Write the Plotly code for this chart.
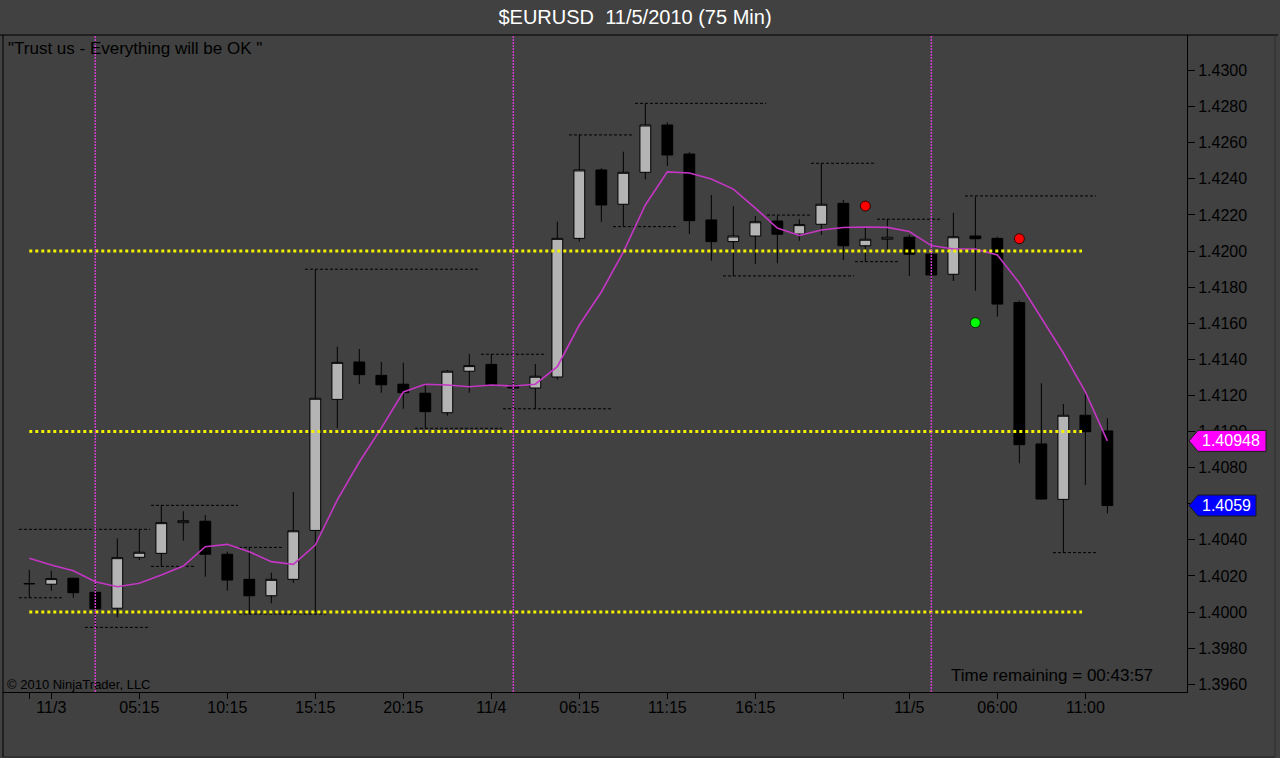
import plotly.graph_objects as go

# ---------------- data ----------------
bar_index = list(range(50))

opens = [1.40157, 1.40154, 1.40187, 1.40109, 1.40021, 1.40303, 1.40325, 1.40495, 1.40503, 1.40320,
         1.40181, 1.40090, 1.40181, 1.40452, 1.41178, 1.41385, 1.41311, 1.41262, 1.41212, 1.41104,
         1.41334, 1.41372, 1.41256, 1.41241, 1.41302, 1.42070, 1.42449, 1.42259, 1.42436, 1.42698,
         1.42537, 1.42172, 1.42052, 1.42083, 1.42166, 1.42094, 1.42148, 1.42264, 1.42029, 1.42065,
         1.42076, 1.41983, 1.41871, 1.42083, 1.42070, 1.41714, 1.40931, 1.40624, 1.41090, 1.41003]
highs = [1.40233, 1.40229, 1.40190, 1.40159, 1.40408, 1.40458, 1.40591, 1.40558, 1.40537, 1.40334,
         1.40358, 1.40218, 1.40665, 1.41898, 1.41470, 1.41457, 1.41385, 1.41381, 1.41267, 1.41341,
         1.41429, 1.41429, 1.41308, 1.41374, 1.42162, 1.42643, 1.42458, 1.42550, 1.42818, 1.42713,
         1.42547, 1.42310, 1.42249, 1.42194, 1.42196, 1.42176, 1.42486, 1.42283, 1.42135, 1.42177,
         1.42089, 1.42006, 1.42212, 1.42301, 1.42079, 1.41725, 1.41267, 1.41152, 1.41217, 1.41073]
lows = [1.40079, 1.40118, 1.40079, 1.39915, 1.39971, 1.40288, 1.40253, 1.40395, 1.40196, 1.40118,
        1.39989, 1.40048, 1.40161, 1.40000, 1.41018, 1.41263, 1.41215, 1.41126, 1.41018, 1.41088,
        1.41215, 1.41255, 1.41126, 1.41126, 1.41288, 1.42052, 1.42162, 1.42135, 1.42397, 1.42471,
        1.42094, 1.41946, 1.41862, 1.41928, 1.41932, 1.42057, 1.42089, 1.41950, 1.41941, 1.42006,
        1.41862, 1.41839, 1.41834, 1.41780, 1.41636, 1.40824, 1.40624, 1.40329, 1.40704, 1.40547]
closes = [1.40157, 1.40185, 1.40107, 1.40018, 1.40301, 1.40331, 1.40495, 1.40506, 1.40320, 1.40177,
          1.40090, 1.40181, 1.40450, 1.41184, 1.41383, 1.41315, 1.41259, 1.41215, 1.41110, 1.41334,
          1.41365, 1.41258, 1.41241, 1.41306, 1.42070, 1.42449, 1.42255, 1.42436, 1.42698, 1.42532,
          1.42168, 1.42052, 1.42083, 1.42162, 1.42093, 1.42146, 1.42259, 1.42029, 1.42065, 1.42076,
          1.41982, 1.41867, 1.42079, 1.42068, 1.41706, 1.40927, 1.40626, 1.41090, 1.40999, 1.40590]

ma_values = [1.40298, 1.40260, 1.40229, 1.40168, 1.40140, 1.40159, 1.40205, 1.40255, 1.40362, 1.40375,
             1.40334, 1.40279, 1.40264, 1.40371, 1.40621, 1.40831, 1.41019, 1.41219, 1.41262, 1.41258,
             1.41248, 1.41258, 1.41252, 1.41262, 1.41359, 1.41590, 1.41773, 1.41994, 1.42255, 1.42438,
             1.42432, 1.42399, 1.42343, 1.42238, 1.42127, 1.42086, 1.42116, 1.42130, 1.42133, 1.42131,
             1.42108, 1.42030, 1.42011, 1.42011, 1.41978, 1.41823, 1.41629, 1.41435, 1.41219, 1.40948]

# swing high/low lines: first bar, last bar, price
swing_from = [0, 0, 6, 6, 3, 10, 10, 13, 18, 21, 22, 25, 28, 27, 34, 36, 32, 39, 38, 43, 47]
swing_to = [5, 1, 9, 7, 5, 11, 13, 20, 21, 23, 26, 27, 33, 29, 35, 38, 37, 41, 39, 48, 48]
swing_price = [1.40458, 1.40079, 1.40591, 1.40253, 1.39915, 1.40358, 1.39989, 1.41899, 1.41018,
               1.41428, 1.41126, 1.42643, 1.42818, 1.42135, 1.42199, 1.42486, 1.41862, 1.42176,
               1.41941, 1.42305, 1.40329]

level_prices = [1.4200, 1.4100, 1.4000]
level_first_bar, level_last_bar = 0, 47.85

session_breaks = [3, 22, 41]

red_dot_bars = [38, 45]
red_dot_prices = [1.42249, 1.42068]
green_dot_bars = [43]
green_dot_prices = [1.41603]

x_tick_bars = [0, 1, 5, 9, 13, 17, 21, 25, 29, 33, 37, 40, 44, 48]
x_tick_labels = ["", "11/3", "05:15", "10:15", "15:15", "20:15", "11/4", "06:15",
                 "11:15", "16:15", "", "11/5", "06:00", "11:00"]
y_tick_values = [1.3960, 1.3980, 1.4000, 1.4020, 1.4040, 1.4060, 1.4080, 1.4100, 1.4120,
                 1.4140, 1.4160, 1.4180, 1.4200, 1.4220, 1.4240, 1.4260, 1.4280, 1.4300]
# 1.4060 sits fully behind the last-price marker in the reference
y_tick_labels = ["1.3960", "1.3980", "1.4000", "1.4020", "1.4040", "", "1.4080", "1.4100",
                 "1.4120", "1.4140", "1.4160", "1.4180", "1.4200", "1.4220", "1.4240",
                 "1.4260", "1.4280", "1.4300"]

x_range = [-1.195, 52.62]
y_range = [1.395569, 1.431966]

BG = "#414141"
FONT = "Arial, Liberation Sans, sans-serif"

fig = go.Figure()

# candles
fig.add_trace(go.Candlestick(
    x=bar_index, open=opens, high=highs, low=lows, close=closes,
    increasing=dict(fillcolor="#b4b4b4", line=dict(color="#000000", width=1)),
    decreasing=dict(fillcolor="#000000", line=dict(color="#000000", width=1)),
    whiskerwidth=0, showlegend=False, hoverinfo="skip"))

# swing lines
sx, sy = [], []
for a, b, p in zip(swing_from, swing_to, swing_price):
    sx += [a - 0.47, b + 0.49, None]
    sy += [p, p, None]
fig.add_trace(go.Scatter(x=sx, y=sy, mode="lines",
                         line=dict(color="#000000", width=1, dash="3px,2px"),
                         showlegend=False, hoverinfo="skip"))

# moving average
fig.add_trace(go.Scatter(x=bar_index, y=ma_values, mode="lines",
                         line=dict(color="#c436c4", width=1.6),
                         showlegend=False, hoverinfo="skip"))

# horizontal yellow levels
lx, ly = [], []
for p in level_prices:
    lx += [level_first_bar, level_last_bar, None]
    ly += [p, p, None]
fig.add_trace(go.Scatter(x=lx, y=ly, mode="lines",
                         line=dict(color="#f2f200", width=3, dash="dot"),
                         showlegend=False, hoverinfo="skip"))

# signal dots
fig.add_trace(go.Scatter(x=red_dot_bars, y=red_dot_prices, mode="markers",
                         marker=dict(color="#ff0000", size=10, line=dict(color="#300000", width=1)),
                         showlegend=False, hoverinfo="skip"))
fig.add_trace(go.Scatter(x=green_dot_bars, y=green_dot_prices, mode="markers",
                         marker=dict(color="#00ff00", size=10, line=dict(color="#003000", width=1)),
                         showlegend=False, hoverinfo="skip"))

shapes = []
for s in session_breaks:
    shapes.append(dict(type="line", xref="x", yref="paper", x0=s, x1=s, y0=0, y1=1,
                       line=dict(color="#cc40cc", width=1.5, dash="2px,1px"), layer="above"))

# panel borders (paper coords; plot area = 3..1187 px wide, 35..692 px high)
PW, PH = 1184.0, 657.0
def px_x(px):
    return (px - 3) / PW
def px_y(py):
    return (692 - py) / PH

shapes.append(dict(type="line", xref="paper", yref="paper", x0=px_x(0), x1=px_x(1278), y0=1, y1=1,
                   line=dict(color="#000000", width=1)))
shapes.append(dict(type="line", xref="paper", yref="paper", x0=0, x1=0, y0=px_y(757), y1=1,
                   line=dict(color="#000000", width=1)))
shapes.append(dict(type="line", xref="paper", yref="paper", x0=0, x1=px_x(1275), y0=px_y(757), y1=px_y(757),
                   line=dict(color="#222222", width=1)))
shapes.append(dict(type="line", xref="paper", yref="paper", x0=px_x(1275), x1=px_x(1275), y0=px_y(757), y1=1,
                   line=dict(color="#2e2e2e", width=1)))

# price markers on the axis
def price_frac(p):
    return (p - y_range[0]) / (y_range[1] - y_range[0])

ma_last = ma_values[-1]
close_last = closes[-1]
for price, fill, w in [(ma_last, "#ff00ff", 77), (close_last, "#0000ff", 67)]:
    shapes.append(dict(type="path", xref="paper", yref="paper",
                       xsizemode="pixel", ysizemode="pixel",
                       xanchor=px_x(1189), yanchor=price_frac(price),
                       path="M0,0 L9,-10.5 L%d,-10.5 L%d,10.5 L9,10.5 Z" % (w, w),
                       fillcolor=fill, line=dict(color="#1a1a1a", width=1)))

annotations = [
    dict(text="%.5f" % ma_last, xref="paper", yref="y", x=px_x(1200), y=ma_last,
         xanchor="left", yanchor="middle", showarrow=False,
         font=dict(family=FONT, size=16, color="#ffffff")),
    dict(text="%.4f" % close_last, xref="paper", yref="y", x=px_x(1200), y=close_last,
         xanchor="left", yanchor="middle", showarrow=False,
         font=dict(family=FONT, size=16, color="#ffffff")),
    dict(text="\"Trust us - Everything will be OK \"", xref="paper", yref="paper",
         x=px_x(6), y=px_y(48), xanchor="left", yanchor="middle", showarrow=False,
         font=dict(family=FONT, size=17, color="#000000")),
    dict(text="© 2010 NinjaTrader, LLC", xref="paper", yref="paper",
         x=px_x(5), y=px_y(684), xanchor="left", yanchor="middle", showarrow=False,
         font=dict(family=FONT, size=13, color="#000000")),
    dict(text="Time remaining = 00:43:57", xref="paper", yref="paper",
         x=px_x(1155), y=px_y(675), xanchor="right", yanchor="middle", showarrow=False,
         font=dict(family=FONT, size=17, color="#000000")),
]

fig.update_layout(
    template="none",
    width=1280, height=758,
    margin=dict(l=3, r=93, t=35, b=66, pad=0),
    paper_bgcolor=BG, plot_bgcolor=BG,
    title=dict(text="$EURUSD\u00a0 11/5/2010 (75 Min)", x=635 / 1280, xref="container", xanchor="center",
               y=1 - 17 / 758, yref="container", yanchor="middle",
               font=dict(family=FONT, size=20, color="#ffffff")),
    showlegend=False,
    shapes=shapes,
    annotations=annotations,
    xaxis=dict(range=x_range, tickmode="array", tickvals=x_tick_bars, ticktext=x_tick_labels,
               showgrid=False, zeroline=False, showline=True, linecolor="#000000", linewidth=1,
               ticks="outside", ticklen=6, tickcolor="#000000", tickwidth=1,
               ticklabelstandoff=-5,
               tickfont=dict(family=FONT, size=16, color="#000000"),
               rangeslider=dict(visible=False), automargin=False, fixedrange=True),
    yaxis=dict(range=y_range, side="right", tickmode="array", tickvals=y_tick_values,
               ticktext=y_tick_labels, showgrid=False, zeroline=False, showline=True,
               linecolor="#000000", linewidth=1, ticks="outside", ticklen=7,
               tickcolor="#000000", tickwidth=1,
               tickfont=dict(family=FONT, size=16, color="#000000"),
               automargin=False, fixedrange=True),
)

fig.write_html("out.html", config={"displayModeBar": False},
               post_script="document.body.style.margin='0';document.body.style.overflow='hidden';")
